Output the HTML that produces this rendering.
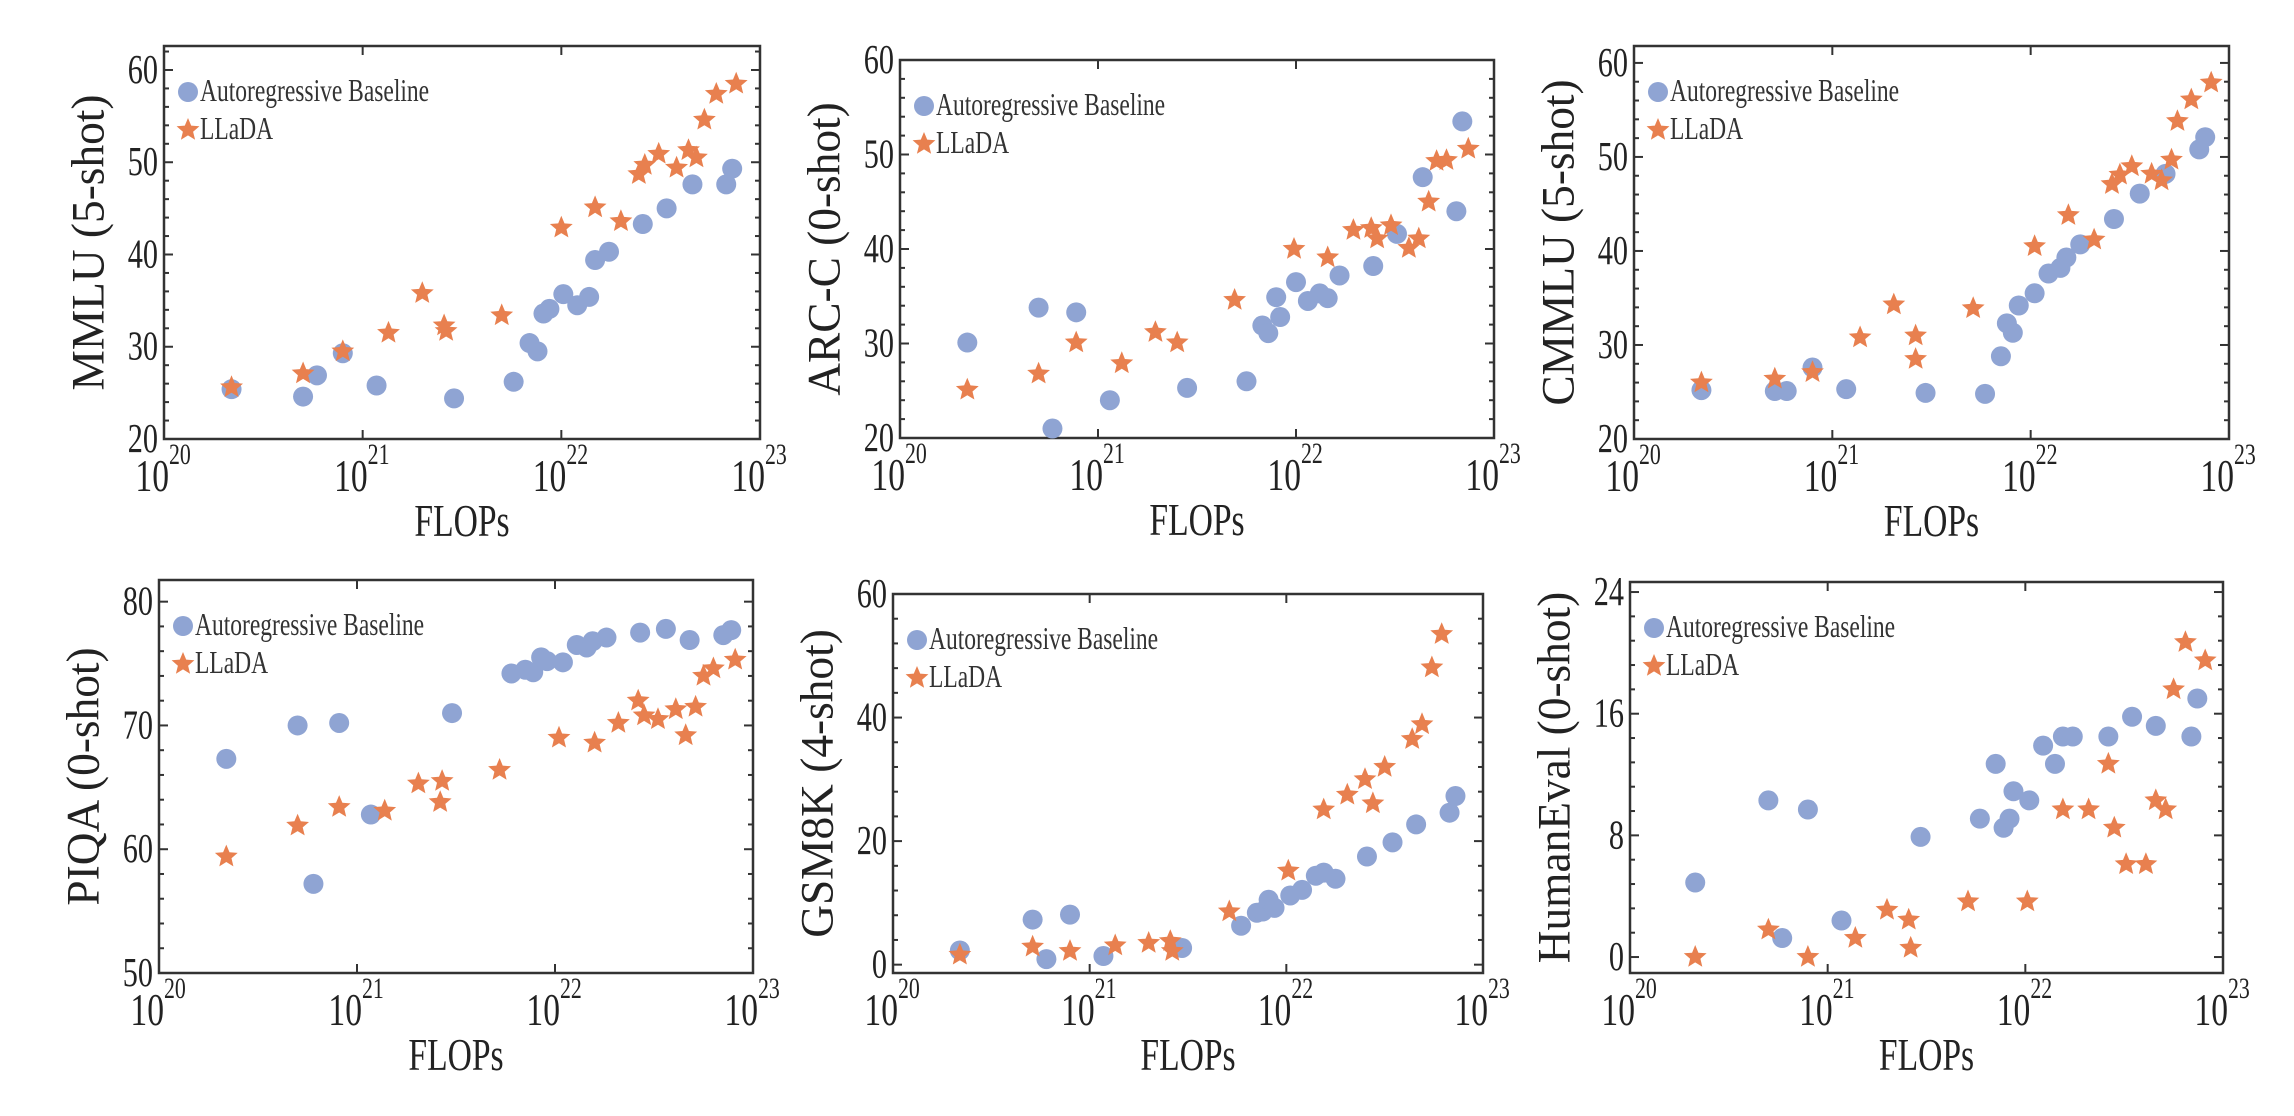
<!DOCTYPE html>
<html><head><meta charset="utf-8"><style>
html,body{margin:0;padding:0;background:#fff;}
svg{display:block;font-family:"Liberation Serif",serif;}
</style></head><body>
<svg id="fig" width="2294" height="1116" viewBox="0 0 2294 1116" xmlns="http://www.w3.org/2000/svg"></svg>
<script>
const xTicks=[20,21,22,23];
// MMLU
const mmluArX=[20.34,20.70,20.77,20.90,21.07,21.46,21.76,21.84,21.88,21.91,21.94,22.01,22.08,22.14,22.17,22.24,22.41,22.53,22.66,22.83,22.86];
const mmluArY=[25.4,24.6,26.9,29.3,25.8,24.4,26.2,30.4,29.5,33.6,34.1,35.7,34.5,35.4,39.4,40.3,43.3,45.0,47.6,47.6,49.3];
const mmluLlX=[20.34,20.70,20.90,21.13,21.30,21.41,21.42,21.70,22.00,22.17,22.30,22.39,22.42,22.49,22.58,22.64,22.68,22.72,22.78,22.88];
const mmluLlY=[25.6,27.1,29.5,31.5,35.8,32.3,31.7,33.4,42.9,45.1,43.6,48.7,49.7,50.9,49.4,51.3,50.5,54.6,57.4,58.5];
const mmluTicks=[20,30,40,50,60];
// ARC-C
const arcArX=[20.34,20.70,20.77,20.89,21.06,21.45,21.75,21.83,21.86,21.90,21.92,22.00,22.06,22.12,22.16,22.22,22.39,22.51,22.64,22.81,22.84];
const arcArY=[30.1,33.8,21.0,33.3,24.0,25.3,26.0,31.9,31.1,34.9,32.8,36.5,34.5,35.3,34.8,37.2,38.2,41.6,47.6,44.0,53.5];
const arcLlX=[20.34,20.70,20.89,21.12,21.29,21.40,21.69,21.99,22.16,22.29,22.38,22.41,22.48,22.57,22.62,22.67,22.71,22.76,22.87];
const arcLlY=[25.1,26.8,30.1,27.9,31.2,30.1,34.6,40.0,39.1,42.0,42.2,41.1,42.5,40.1,41.1,45.0,49.3,49.4,50.6];
const arcTicks=[20,30,40,50,60];
// CMMLU
const cmmluArX=[20.34,20.71,20.77,20.90,21.07,21.47,21.77,21.85,21.88,21.91,21.94,22.02,22.09,22.15,22.18,22.25,22.42,22.55,22.68,22.85,22.88];
const cmmluArY=[25.2,25.1,25.1,27.6,25.3,24.9,24.8,28.8,32.3,31.3,34.2,35.5,37.6,38.2,39.3,40.7,43.4,46.1,48.2,50.8,52.1];
const cmmluLlX=[20.34,20.71,20.90,21.14,21.31,21.42,21.42,21.71,22.02,22.19,22.32,22.41,22.45,22.51,22.61,22.66,22.71,22.74,22.81,22.91];
const cmmluLlY=[26.0,26.4,27.1,30.8,34.3,31.0,28.5,33.9,40.5,43.8,41.2,47.1,48.1,49.0,48.2,47.5,49.7,53.8,56.1,57.9];
const cmmluTicks=[20,30,40,50,60];
// PIQA
const piqaArX=[20.34,20.70,20.91,20.78,21.07,21.48,21.78,21.85,21.89,21.93,21.96,22.04,22.11,22.16,22.19,22.26,22.43,22.56,22.68,22.85,22.89];
const piqaArY=[67.3,70.0,70.2,57.2,62.8,71.0,74.2,74.5,74.3,75.5,75.2,75.1,76.5,76.3,76.8,77.1,77.5,77.8,76.9,77.3,77.7];
const piqaLlX=[20.34,20.70,20.91,21.14,21.31,21.43,21.42,21.72,22.02,22.20,22.32,22.42,22.45,22.52,22.61,22.66,22.71,22.75,22.80,22.91];
const piqaLlY=[59.4,61.9,63.4,63.1,65.3,65.5,63.8,66.4,69.0,68.6,70.2,72.0,70.8,70.5,71.3,69.2,71.5,74.0,74.6,75.3];
const piqaTicks=[50,60,70,80];
// GSM8K
const gsmArX=[20.34,20.71,20.78,20.90,21.07,21.47,21.77,21.85,21.88,21.91,21.94,22.02,22.08,22.15,22.19,22.25,22.41,22.54,22.66,22.83,22.86];
const gsmArY=[2.3,7.3,0.9,8.1,1.4,2.7,6.3,8.4,8.6,10.5,9.2,11.2,12.1,14.4,14.9,13.9,17.5,19.8,22.7,24.6,27.3];
const gsmLlX=[20.34,20.71,20.90,21.13,21.30,21.41,21.42,21.71,22.01,22.19,22.31,22.40,22.44,22.50,22.64,22.69,22.74,22.79];
const gsmLlY=[1.6,2.9,2.2,3.1,3.5,3.8,2.2,8.6,15.2,25.1,27.5,30.0,26.1,32.0,36.5,38.9,48.1,53.5];
const gsmTicks=[0,20,40,60];
// HumanEval
const heArX=[20.33,20.70,20.77,20.90,21.07,21.47,21.77,21.85,21.89,21.92,21.94,22.02,22.09,22.15,22.19,22.24,22.42,22.54,22.66,22.84,22.87];
const heArY=[4.9,10.3,1.25,9.7,2.4,7.9,9.1,12.7,8.5,9.1,10.9,10.3,13.9,12.7,14.5,14.5,14.5,15.8,15.2,14.5,17.0];
const heLlX=[20.33,20.70,20.90,21.14,21.30,21.41,21.42,21.71,22.01,22.19,22.32,22.42,22.45,22.51,22.61,22.66,22.71,22.75,22.81,22.91];
const heLlY=[0,1.8,0,1.25,3.1,2.45,0.6,3.65,3.65,9.7,9.7,12.7,8.5,6.1,6.1,10.3,9.7,17.6,20.7,19.5];
const heTicks=[0,8,16,24];

const NS="http://www.w3.org/2000/svg";
const svg=document.getElementById('fig');
function mk(tag,attrs,parent){const e=document.createElementNS(NS,tag);for(const k in attrs)e.setAttribute(k,attrs[k]);(parent||svg).appendChild(e);return e;}
function txt(parent,x,y,size,anchor,extra){
  const t=mk('text',{x:0,y:0,'font-size':size,fill:'#222','text-anchor':anchor,transform:`translate(${x} ${y}) ${extra||''} scale(0.84 1.14)`},parent);
  return t;
}
function starPath(cx,cy,r){let d='';for(let i=0;i<10;i++){const rr=i%2?r*0.45:r;const a=-Math.PI/2+i*Math.PI/5;d+=(i?'L':'M')+(cx+rr*Math.cos(a)).toFixed(1)+','+(cy+rr*Math.sin(a)).toFixed(1);}return d+'Z';}
const BLUE='#8fa4d3',ORANGE='#e8804f';

function panel(key,label,box,ylim,ticks,arX,arY,llX,llY,minorStep){
  const g=mk('g',{});
  
  
  const {L,R,T,B}=box;
  const xs=v=>L+(v-20)/3*(R-L);
  const ys=v=>B-(v-ylim[0])/(ylim[1]-ylim[0])*(B-T);
  const fr=mk('rect',{x:L,y:T,width:R-L,height:B-T,fill:'none',stroke:'#333','stroke-width':2.5},g);
  
  
  xTicks.forEach(t=>{
    const x=xs(t);
    mk('line',{x1:x,y1:B,x2:x,y2:B-9,stroke:'#333','stroke-width':2},g);
    mk('line',{x1:x,y1:T,x2:x,y2:T+9,stroke:'#333','stroke-width':2},g);
    const tx=txt(g,x+5,B+52,40,'end');
    tx.textContent='10';
    
    
    const sp=txt(g,x+5,B+25,26,'start');
    sp.textContent=String(t);
    
    
  });
  for(let v=ticks[0];v<=ylim[1]+1e-9;v+=minorStep){
    const y=ys(v);if(y<T-0.5)continue;
    const major=ticks.some(t=>Math.abs(t-v)<1e-6);
    const len=major?9:5;
    mk('line',{x1:L,y1:y,x2:L+len,y2:y,stroke:'#333','stroke-width':2},g);
    mk('line',{x1:R,y1:y,x2:R-len,y2:y,stroke:'#333','stroke-width':2},g);
  }
  ticks.forEach(t=>{
    const tl=txt(g,L-6,ys(t)+13,36,'end');
    tl.textContent=String(t);
    
    
  });
  const xt=txt(g,(L+R)/2,B+97,40,'middle');
  xt.textContent='FLOPs';
  
  
  const cy=(T+B)/2,cx=L-76;
  const yt=mk('text',{x:0,y:0,'font-size':42,fill:'#222','text-anchor':'middle',transform:`translate(${cx} ${cy}) rotate(-90) scale(1.08 1.1) translate(0 14)`},g);
  yt.textContent=label;
  
  
  arX.forEach((v,i)=>{
    const c=mk('circle',{cx:xs(v),cy:ys(arY[i]),r:10,fill:BLUE},g);
    
    
  });
  llX.forEach((v,i)=>{
    const s=mk('path',{d:starPath(xs(v),ys(llY[i]),12),fill:ORANGE},g);
    
    
  });
  const lg=mk('g',{},g);
  
  
  const e1=mk('circle',{cx:L+24,cy:T+46,r:10,fill:BLUE},lg);
  
  
  const t1=txt(lg,L+36,T+55,28,'start');
  t1.setAttribute('fill','#333');
  t1.textContent='Autoregressive Baseline';
  
  
  const s2=mk('path',{d:starPath(L+24,T+84,12),fill:ORANGE},lg);
  
  
  const t2=txt(lg,L+36,T+93,28,'start');
  t2.setAttribute('fill','#333');
  t2.textContent='LLaDA';
  
  
}
panel('mmlu','MMLU (5-shot)',{L:164,R:760,T:46,B:439},[20,62.6],mmluTicks,mmluArX,mmluArY,mmluLlX,mmluLlY,2);
panel('arc-c','ARC-C (0-shot)',{L:900,R:1494,T:60,B:438},[20,60],arcTicks,arcArX,arcArY,arcLlX,arcLlY,2);
panel('cmmlu','CMMLU (5-shot)',{L:1634,R:2229,T:46,B:439},[20,61.8],cmmluTicks,cmmluArX,cmmluArY,cmmluLlX,cmmluLlY,2);
panel('piqa','PIQA (0-shot)',{L:159,R:753,T:580,B:973},[50,81.75],piqaTicks,piqaArX,piqaArY,piqaLlX,piqaLlY,2);
panel('gsm8k','GSM8K (4-shot)',{L:893,R:1483,T:594,B:973},[-1.35,60],gsmTicks,gsmArX,gsmArY,gsmLlX,gsmLlY,4);
panel('humaneval','HumanEval (0-shot)',{L:1630,R:2223,T:582,B:973},[-1.05,24.66],heTicks,heArX,heArY,heLlX,heLlY,1.6);
</script>
</body></html>
